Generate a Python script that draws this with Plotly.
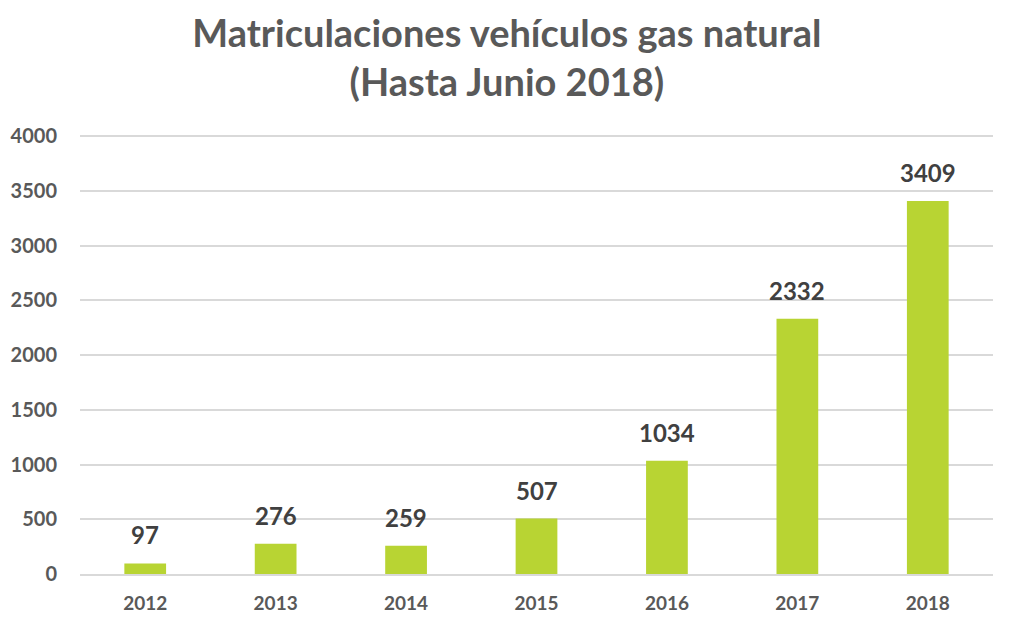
import plotly.graph_objects as go

# Registrations of natural gas vehicles per year (2018 up to June)
years = ['2012', '2013', '2014', '2015', '2016', '2017', '2018']
registrations = [97, 276, 259, 507, 1034, 2332, 3409]
y_ticks = [0, 500, 1000, 1500, 2000, 2500, 3000, 3500, 4000]

bar_color = '#b8d433'
text_gray = '#595959'
label_gray = '#404040'
font_family = 'Lato, "Open Sans", sans-serif'

fig = go.Figure()
fig.add_trace(go.Bar(
    x=years,
    y=registrations,
    marker_color=bar_color,
    marker_line_width=0,
    hoverinfo='x+y',
))

# Value labels above the bars (category axis -> use serial index for x)
for i, value in enumerate(registrations):
    fig.add_annotation(
        x=i, y=value,
        text=str(value),
        showarrow=False,
        yanchor='bottom',
        yshift=12,
        font=dict(family=font_family, size=24, color=label_gray, weight='bold'),
    )

# page body has an 8px margin, so the figure is 8px smaller than the window
fig.update_layout(
    width=1016,
    height=614,
    paper_bgcolor='white',
    plot_bgcolor='white',
    margin=dict(l=72, r=31, t=124, b=48),
    bargap=0.68,
    showlegend=False,
    title=dict(
        text='Matriculaciones vehículos gas natural<br>(Hasta Junio 2018)',
        x=0.491, xanchor='center',
        y=0.937, yanchor='middle',
        font=dict(family=font_family, size=38, color=text_gray, weight='bold'),
    ),
    font=dict(family=font_family, color=text_gray),
)

fig.update_yaxes(
    range=[0, 4040],
    tickvals=y_ticks,
    ticktext=[str(t) for t in y_ticks],
    showgrid=True,
    gridcolor='#d9d9d9',
    gridwidth=2,
    zeroline=False,
    showline=False,
    ticks='',
    automargin=False,
    ticklabelstandoff=22,
    tickfont=dict(family=font_family, size=20, color=text_gray, weight='bold'),
)
fig.update_xaxes(
    type='category',
    showgrid=False,
    showline=True,
    linecolor='#d9d9d9',
    linewidth=2,
    ticks='',
    automargin=False,
    ticklabelstandoff=11,
    tickfont=dict(family=font_family, size=19, color=text_gray, weight='bold'),
)

fig.write_html('out.html')
